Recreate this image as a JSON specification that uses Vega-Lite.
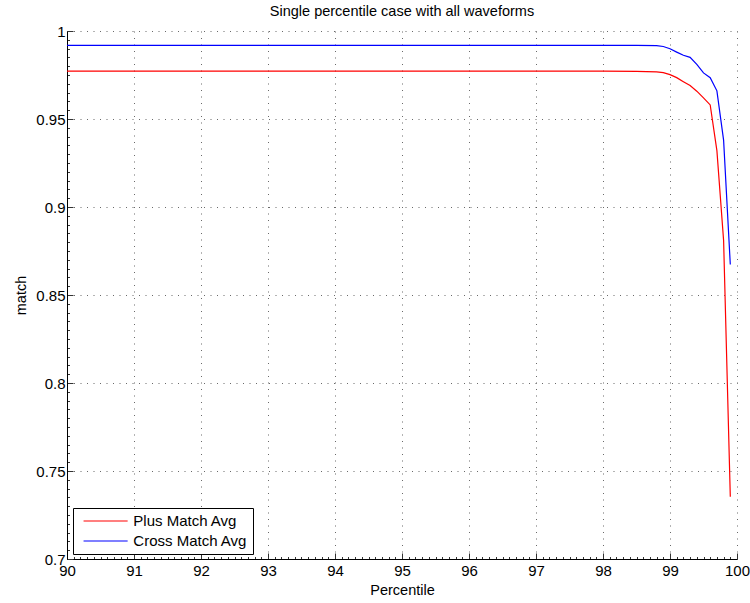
{
  "$schema": "https://vega.github.io/schema/vega-lite/v6.json",
  "width": 670,
  "height": 528,
  "autosize": "none",
  "padding": {"left": 67, "top": 31, "right": 13, "bottom": 44},
  "background": "white",
  "title": {"text": "Single percentile case with all waveforms", "fontSize": 14.5, "fontWeight": "normal", "font": "Liberation Sans", "color": "black", "offset": 5},
  "config": {
    "font": "Liberation Sans",
    "view": {"stroke": null}
  },
  "data": {"values": [
    {"p": 90, "v": 0.9772, "s": "Plus Match Avg"},
    {"p": 95, "v": 0.9772, "s": "Plus Match Avg"},
    {"p": 98, "v": 0.9772, "s": "Plus Match Avg"},
    {"p": 98.5, "v": 0.9771, "s": "Plus Match Avg"},
    {"p": 98.8, "v": 0.9768, "s": "Plus Match Avg"},
    {"p": 98.9, "v": 0.9763, "s": "Plus Match Avg"},
    {"p": 99.0, "v": 0.9752, "s": "Plus Match Avg"},
    {"p": 99.1, "v": 0.9735, "s": "Plus Match Avg"},
    {"p": 99.2, "v": 0.9712, "s": "Plus Match Avg"},
    {"p": 99.3, "v": 0.969, "s": "Plus Match Avg"},
    {"p": 99.4, "v": 0.9658, "s": "Plus Match Avg"},
    {"p": 99.5, "v": 0.962, "s": "Plus Match Avg"},
    {"p": 99.6, "v": 0.958, "s": "Plus Match Avg"},
    {"p": 99.7, "v": 0.932, "s": "Plus Match Avg"},
    {"p": 99.8, "v": 0.881, "s": "Plus Match Avg"},
    {"p": 99.9, "v": 0.7354, "s": "Plus Match Avg"},
    {"p": 90, "v": 0.9918, "s": "Cross Match Avg"},
    {"p": 95, "v": 0.9918, "s": "Cross Match Avg"},
    {"p": 98, "v": 0.9918, "s": "Cross Match Avg"},
    {"p": 98.5, "v": 0.9918, "s": "Cross Match Avg"},
    {"p": 98.8, "v": 0.9917, "s": "Cross Match Avg"},
    {"p": 98.9, "v": 0.9912, "s": "Cross Match Avg"},
    {"p": 99.0, "v": 0.9899, "s": "Cross Match Avg"},
    {"p": 99.1, "v": 0.988, "s": "Cross Match Avg"},
    {"p": 99.2, "v": 0.9862, "s": "Cross Match Avg"},
    {"p": 99.3, "v": 0.985, "s": "Cross Match Avg"},
    {"p": 99.4, "v": 0.981, "s": "Cross Match Avg"},
    {"p": 99.5, "v": 0.9762, "s": "Cross Match Avg"},
    {"p": 99.6, "v": 0.9735, "s": "Cross Match Avg"},
    {"p": 99.7, "v": 0.966, "s": "Cross Match Avg"},
    {"p": 99.8, "v": 0.938, "s": "Cross Match Avg"},
    {"p": 99.9, "v": 0.8673, "s": "Cross Match Avg"}
  ]},
  "mark": {"type": "line", "strokeWidth": 1.2, "clip": true},
  "encoding": {
    "x": {
      "field": "p", "type": "quantitative",
      "scale": {"domain": [90, 100], "nice": false, "zero": false},
      "axis": {
        "title": "Percentile", "titleFontSize": 14.5, "titleFontWeight": "normal", "titleColor": "black", "titlePadding": 2,
        "values": [90,90.1,90.2,90.3,90.4,90.5,90.6,90.7,90.8,90.9,91,91.1,91.2,91.3,91.4,91.5,91.6,91.7,91.8,91.9,92,92.1,92.2,92.3,92.4,92.5,92.6,92.7,92.8,92.9,93,93.1,93.2,93.3,93.4,93.5,93.6,93.7,93.8,93.9,94,94.1,94.2,94.3,94.4,94.5,94.6,94.7,94.8,94.9,95,95.1,95.2,95.3,95.4,95.5,95.6,95.7,95.8,95.9,96,96.1,96.2,96.3,96.4,96.5,96.6,96.7,96.8,96.9,97,97.1,97.2,97.3,97.4,97.5,97.6,97.7,97.8,97.9,98,98.1,98.2,98.3,98.4,98.5,98.6,98.7,98.8,98.9,99,99.1,99.2,99.3,99.4,99.5,99.6,99.7,99.8,99.9,100],
        "labelExpr": "abs(datum.value - round(datum.value)) < 0.001 ? format(datum.value, 'd') : ''",
        "labelFontSize": 15, "labelColor": "black", "labelPadding": 10, "labelFlush": false, "labelOverlap": false,
        "domain": true, "domainColor": "black", "domainWidth": 1,
        "ticks": true, "tickColor": "#333",
        "tickSize": {"condition": {"test": "abs(datum.value - round(datum.value)) < 0.001", "value": -6}, "value": -2.5},
        "grid": true, "gridColor": "#444", "gridDash": [1, 5.5],
        "gridOpacity": {"condition": {"test": "abs(datum.value - round(datum.value)) < 0.001", "value": 0.8}, "value": 0}
      }
    },
    "y": {
      "field": "v", "type": "quantitative",
      "scale": {"domain": [0.7, 1], "nice": false, "zero": false},
      "axis": {
        "title": "match", "titleFontSize": 14.5, "titleFontWeight": "normal", "titleColor": "black", "titlePadding": 7,
        "values": [0.7,0.705,0.71,0.715,0.72,0.725,0.73,0.735,0.74,0.745,0.75,0.755,0.76,0.765,0.77,0.775,0.78,0.785,0.79,0.795,0.8,0.805,0.81,0.815,0.82,0.825,0.83,0.835,0.84,0.845,0.85,0.855,0.86,0.865,0.87,0.875,0.88,0.885,0.89,0.895,0.9,0.905,0.91,0.915,0.92,0.925,0.93,0.935,0.94,0.945,0.95,0.955,0.96,0.965,0.97,0.975,0.98,0.985,0.99,0.995,1],
        "labelExpr": "abs(datum.value * 20 - round(datum.value * 20)) < 0.001 ? format(datum.value, '.2~f') : ''",
        "labelFontSize": 15, "labelColor": "black", "labelPadding": 8, "labelFlush": false, "labelOverlap": false,
        "domain": true, "domainColor": "black", "domainWidth": 1,
        "ticks": true, "tickColor": "#333",
        "tickSize": {"condition": {"test": "abs(datum.value * 20 - round(datum.value * 20)) < 0.001", "value": -6}, "value": -2.5},
        "grid": true, "gridColor": "#444", "gridDash": [1, 5.5],
        "gridOpacity": {"condition": {"test": "abs(datum.value * 20 - round(datum.value * 20)) < 0.001", "value": 0.8}, "value": 0}
      }
    },
    "color": {
      "field": "s", "type": "nominal",
      "scale": {"domain": ["Plus Match Avg", "Cross Match Avg"], "range": ["#ff0000", "#0000ff"]},
      "legend": {
        "title": null, "orient": "none", "legendX": 6, "legendY": 477,
        "symbolType": "M-3,0H3", "symbolSize": 216, "symbolStrokeWidth": 1.2, "symbolOffset": 19.6,
        "labelFontSize": 15, "labelColor": "black", "labelOffset": 19.7, "rowPadding": 4,
        "strokeColor": "black", "fillColor": "white", "padding": 5
      }
    }
  }
}
